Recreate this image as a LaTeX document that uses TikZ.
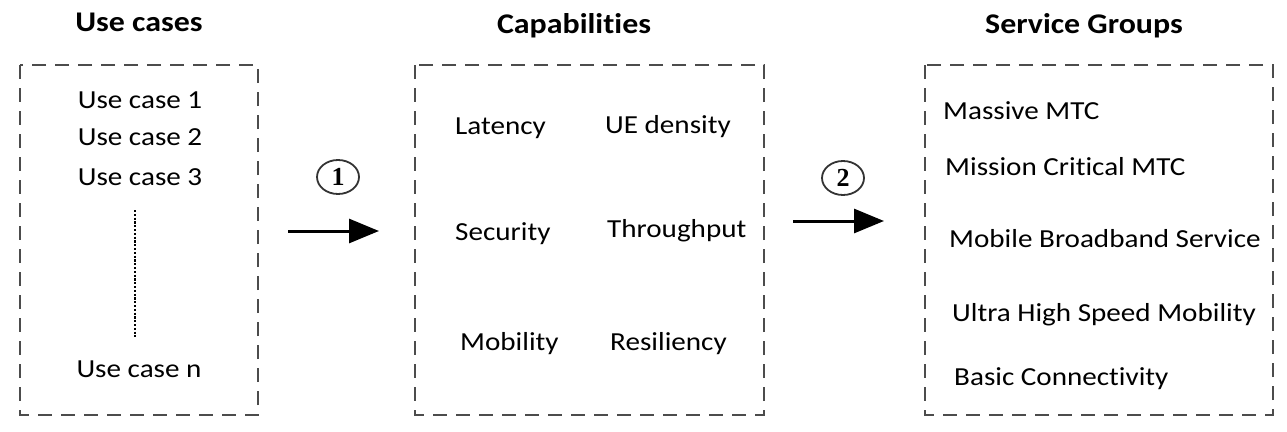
\documentclass[tikz,border=0pt]{standalone}
\usepackage{fontspec}
\setmainfont{Carlito}[FakeStretch=1.12,Ligatures=NoCommon]
\newfontfamily\numfont{Liberation Serif}
\usetikzlibrary{arrows.meta,shapes.geometric}
\begin{document}
\begin{tikzpicture}[x=1pt,y=-1pt,
  dbox/.style={draw=black!70,line width=2.2pt,dash pattern=on 14pt off 9pt,inner sep=0pt},
  title/.style={font=\fontsize{28.5}{32}\selectfont\bfseries,anchor=base},
  item/.style={font=\fontsize{26}{30}\selectfont,anchor=base west,inner sep=0pt},
  citem/.style={font=\fontsize{26}{30}\selectfont,anchor=base,inner sep=0pt},
  stepnum/.style={draw=black!80,line width=1.8pt,ellipse,minimum width=42pt,minimum height=34pt,inner sep=0pt,font=\numfont\bfseries\fontsize{26}{28}\selectfont},
  flow/.style={line width=3pt,-{Triangle[length=30pt,width=24pt]}}]
\useasboundingbox (0,0) rectangle (1287,431);
\fill[white] (0,0) rectangle (1287,431);
% boxes
\draw[dbox] (20,65) rectangle (258,415);
\draw[dbox] (415,65) rectangle (764,415);
\draw[dbox] (925,65) rectangle (1273,415);
% titles
\node[title] (t1) at (139,31) {Use cases};
\node[title] (t2) at (574,33) {Capabilities};
\node[title] (t3) at (1084,33) {Service Groups};
% use cases
\node[citem] (u1) at (140,108) {Use case 1};
\node[citem] (u2) at (140,145) {Use case 2};
\node[citem] (u3) at (140,185) {Use case 3};
\node[citem] (un) at (139,377) {Use case n};
\coordinate (d1) at (135,210);
\coordinate (d2) at (135,337);
\draw[line width=2.4pt,dash pattern=on 2.2pt off 1.6pt] (d1) -- (d2);
% capabilities
\node[item] (c1) at (455,134) {Latency};
\node[item] (c2) at (605,133) {UE density};
\node[item] (c3) at (455,240) {Security};
\node[item] (c4) at (607,237) {Throughput};
\node[item] (c5) at (460,350) {Mobility};
\node[item] (c6) at (610,350) {Resiliency};
% service groups
\node[item] (s1) at (943,119) {Massive MTC};
\node[item] (s2) at (945,175) {Mission Critical MTC};
\node[item] (s3) at (949,247) {Mobile Broadband Service};
\node[item] (s4) at (952,321) {Ultra High Speed Mobility};
\node[item] (s5) at (954,385) {Basic Connectivity};
% arrows
\node[stepnum] (n1) at (338,177) {1};
\node[stepnum] (n2) at (843,178) {2};
\coordinate (a1s) at (288,231);
\coordinate (a1e) at (379,231);
\coordinate (a2s) at (793,221);
\coordinate (a2e) at (884,221);
\draw[flow] (a1s) -- (a1e);
\draw[flow] (a2s) -- (a2e);
\end{tikzpicture}
\end{document}
